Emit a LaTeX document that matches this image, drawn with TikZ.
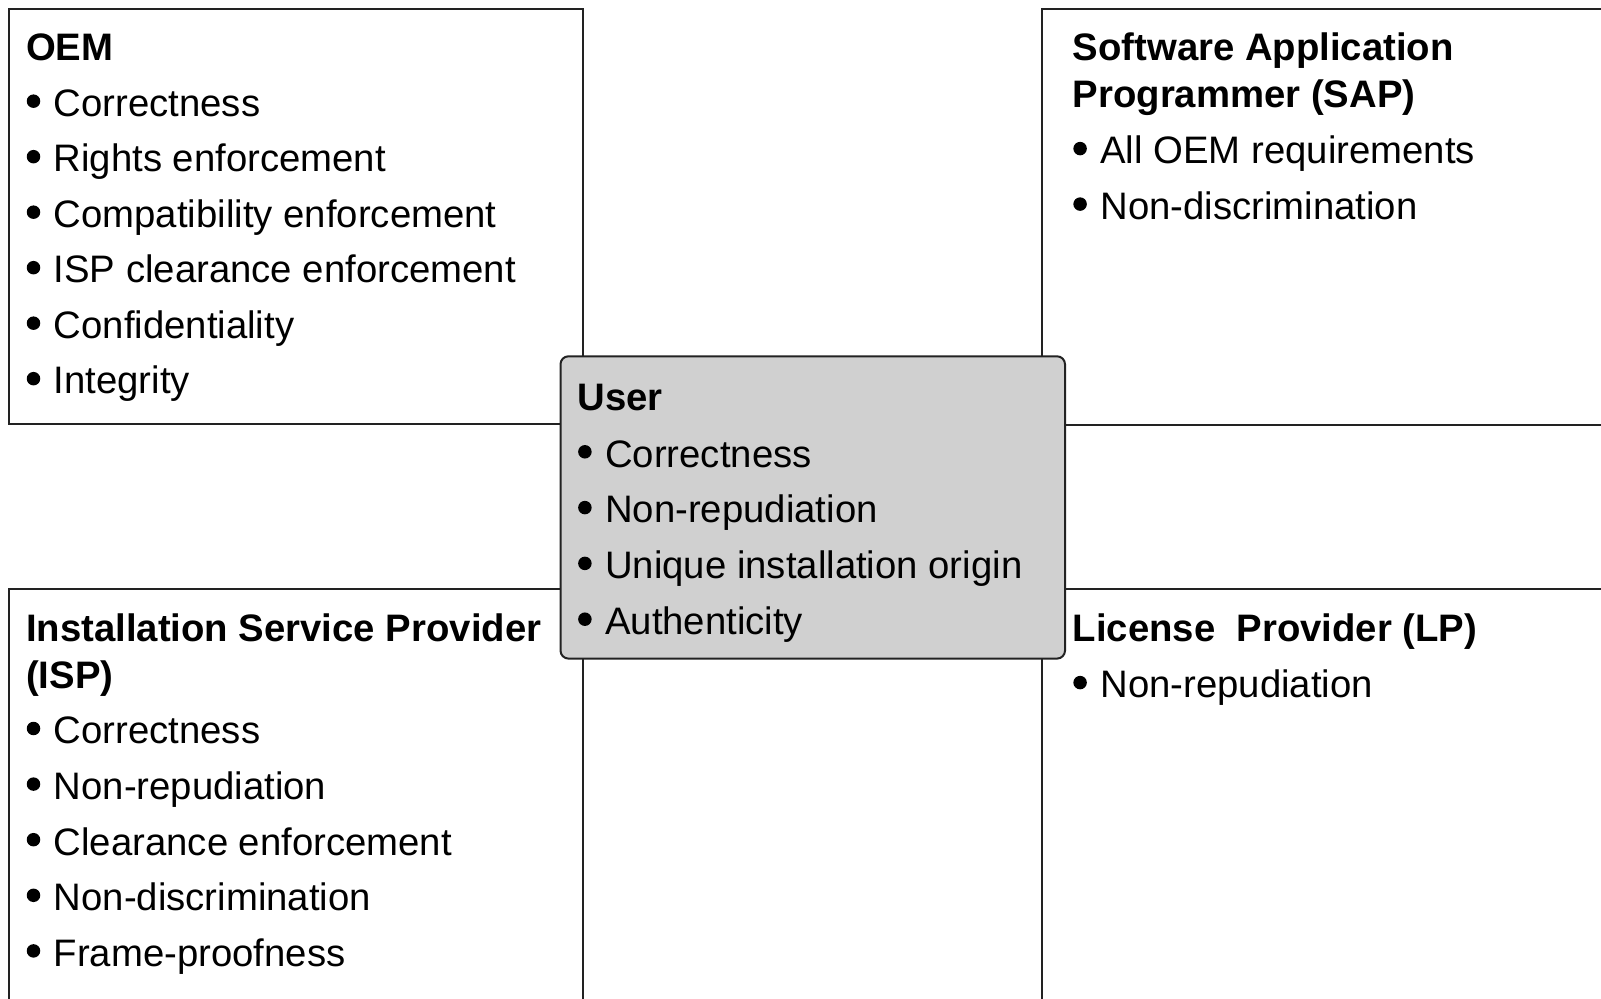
\documentclass[tikz,border=0pt]{standalone}
\usepackage{fontspec}
\setmainfont{Liberation Sans}
\definecolor{usergray}{RGB}{208,208,208}
\definecolor{framegray}{RGB}{34,34,34}
\begin{document}
\begin{tikzpicture}[x=0.3pt,y=-0.3pt,
  frame/.style={draw=framegray, line width=0.6pt},
  userbox/.style={draw=framegray, line width=0.6pt, fill=usergray, rounded corners=2.4pt},
  head/.style={anchor=base west, inner sep=0pt, font=\fontsize{11.49pt}{14pt}\selectfont\bfseries},
  item/.style={anchor=base west, inner sep=0pt, font=\fontsize{11.49pt}{14pt}\selectfont},
  bulletdot/.style={circle, fill=black, draw=none, inner sep=0pt, minimum size=4.05pt},
]
\useasboundingbox (0,0) rectangle (1601,999);

% the four role boxes
\draw[frame] (9.2,9.2) rectangle (583,423.7);
\draw[frame] (1041.5,9.2) rectangle (1700,424.7);
\draw[frame] (9.2,589) rectangle (583,1100);
\draw[frame] (1041.5,589) rectangle (1700,1100);

% the central user box
\draw[userbox] (560.5,356.3) rectangle (1065,658.6);

% OEM
\node[head] (oem-title) at (25.5,60.8) {OEM};
\foreach \t [count=\i from 0] in {Correctness, Rights enforcement, Compatibility enforcement, ISP clearance enforcement, Confidentiality, Integrity} {
  \node[bulletdot] (oem-dot-\i) at (33.5,{116.5+55.5*\i-15.3}) {};
  \node[item] (oem-item-\i) at (53.1,{116.5+55.5*\i}) {\t};
}

% SAP
\node[head] (sap-title-a) at (1072.1,60.8) {Software Application};
\node[head] (sap-title-b) at (1072.1,107.7) {Programmer (SAP)};
\foreach \t [count=\i from 0] in {All OEM requirements, Non-discrimination} {
  \node[bulletdot] (sap-dot-\i) at (1080.1,{163.9+55.5*\i-15.3}) {};
  \node[item] (sap-item-\i) at (1099.7,{163.9+55.5*\i}) {\t};
}

% ISP
\node[head] (isp-title-a) at (25.5,641.7) {Installation Service Provider};
\node[head] (isp-title-b) at (25.5,688.7) {(ISP)};
\foreach \t [count=\i from 0] in {Correctness, Non-repudiation, Clearance enforcement, Non-discrimination, Frame-proofness} {
  \node[bulletdot] (isp-dot-\i) at (33.5,{743.8+55.6*\i-15.3}) {};
  \node[item] (isp-item-\i) at (53.1,{743.8+55.6*\i}) {\t};
}

% LP
\node[head] (lp-title) at (1072.1,641.7) {License\ \ Provider (LP)};
\node[bulletdot] (lp-dot-0) at (1080.1,{697.9-15.3}) {};
\node[item] (lp-item-0) at (1099.7,697.9) {Non-repudiation};

% User
\node[head] (user-title) at (576.9,411) {User};
\foreach \t [count=\i from 0] in {Correctness, Non-repudiation, Unique installation origin, Authenticity} {
  \node[bulletdot] (user-dot-\i) at (584.9,{467.1+55.8*\i-15.3}) {};
  \node[item] (user-item-\i) at (604.5,{467.1+55.8*\i}) {\t};
}
\end{tikzpicture}
\end{document}
